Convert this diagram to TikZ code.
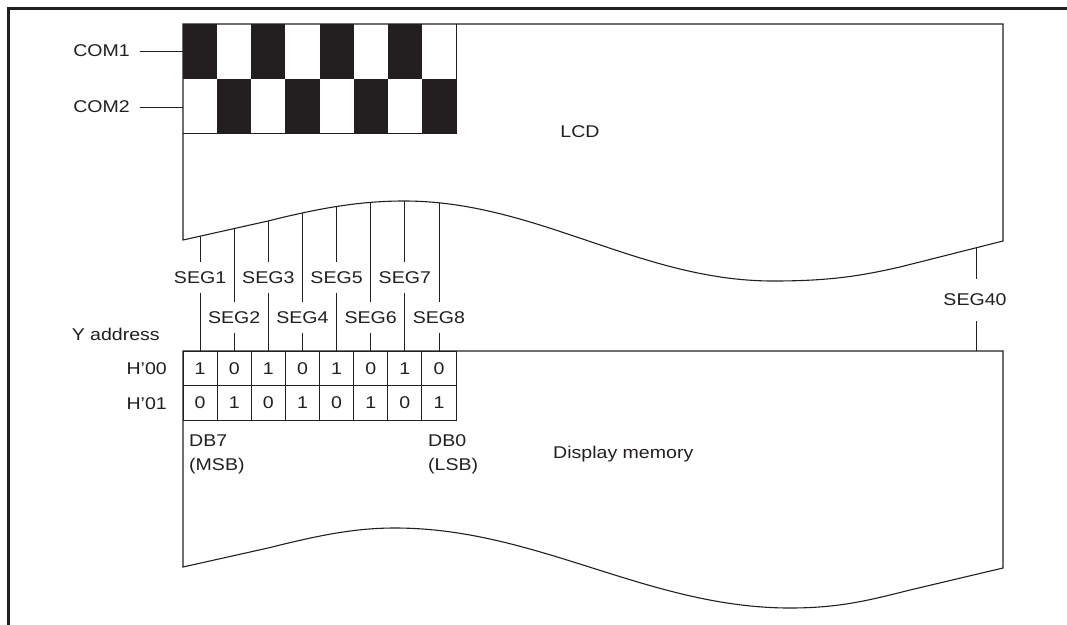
\documentclass[tikz,border=0pt]{standalone}
\usepackage{fontspec}
\setmainfont{Liberation Sans}[FakeStretch=1.15]
\definecolor{ink}{RGB}{35,31,32}
\begin{document}
\begin{tikzpicture}[x=1pt,y=-1pt,
  every node/.style={font=\fontsize{17}{20}\selectfont, text=ink, inner sep=0pt},
  conn/.style={draw=ink, line width=0.8pt},
  outline/.style={draw=ink, line width=1.1pt, line join=miter},
  cell/.style={draw=ink, line width=0.8pt, minimum width=34.125pt, minimum height=34.5pt},
  seglab/.style={inner xsep=1pt, inner ysep=9pt}]
\clip (0,0) rectangle (1067,624);
\fill[white] (0,0) rectangle (1067,624);
\draw[line width=3pt, ink] (8.5,640) -- (8.5,8.5) -- (1080,8.5);

% display memory outline
\draw[outline] (183,351) -- (1003,351) -- (1003,568) -- (910,590)
  .. controls (870,600) and (840,608) .. (790,608)
  .. controls (648,608) and (537,528) .. (395,528)
  .. controls (355,528) and (320,535) .. (268,548) -- (183,567) -- cycle;

% memory cells
\foreach \i/\a/\b in {1/1/0,2/0/1,3/1/0,4/0/1,5/1/0,6/0/1,7/1/0,8/0/1}{
  \node[cell] (a\i) at ({183+34.125*(\i-0.5)},368.25) {\a};
  \node[cell] (b\i) at ({183+34.125*(\i-0.5)},402.75) {\b};
}

% SEG labels and lines
\foreach \i in {1,3,5,7}{
  \coordinate (w\i) at ({183+34.125*(\i-0.5)},195);
  \node[seglab] (s\i) at ({183+34.125*(\i-0.5)},277.5) {SEG\i};
  \draw[conn] (w\i) -- (s\i.north);
  \draw[conn] (s\i.south) -- (a\i.north);
}
\foreach \i in {2,4,6,8}{
  \coordinate (w\i) at ({183+34.125*(\i-0.5)},195);
  \node[seglab] (s\i) at ({183+34.125*(\i-0.5)},317.5) {SEG\i};
  \draw[conn] (w\i) -- (s\i.north);
  \draw[conn] (s\i.south) -- (a\i.north);
}
\coordinate (w40) at (976,230);
\coordinate (m40) at (976,351);
\node[seglab, inner ysep=15pt] (s40) at (975,300) {SEG40};
\draw[conn] (w40) -- (w40 |- s40.north);
\draw[conn] (w40 |- s40.south) -- (m40);

% LCD outline (white fill hides line tops)
\draw[outline, fill=white] (183,24) -- (183,240) -- (268,221)
  .. controls (320,208) and (360,201) .. (404,201)
  .. controls (537,201) and (640,281) .. (773,281)
  .. controls (830,281) and (860,276) .. (900,267)
  -- (1003,241) -- (1003,24) -- cycle;

% checkerboard
\foreach \i in {0,2,4,6}{
  \fill[ink] ({183+34.125*\i},24) rectangle +(34.125,54.5);
}
\foreach \i in {1,3,5,7}{
  \fill[ink] ({183+34.125*\i},78.5) rectangle +(34.125,54.5);
}
\draw[conn] (183,133) -- (456,133) -- (456,24);

% COM labels
\node[anchor=east] (com1) at (130,51) {COM1};
\node[anchor=east] (com2) at (130,107) {COM2};
\coordinate (com1e) at (183,51);
\coordinate (com2e) at (183,107);
\draw[conn] ([xshift=10pt]com1.east) -- (com1e);
\draw[conn] ([xshift=10pt]com2.east) -- (com2e);

\node (lcd) at (580,132) {LCD};

% address labels
\node[anchor=base east] (yaddr) at (160,340) {Y address};
\node[anchor=base east] (h00) at (167,374) {H'00};
\node[anchor=base east] (h01) at (167,409) {H'01};

% bit labels
\node[anchor=base west] (db7) at (189,446) {DB7};
\node[anchor=base west] (msb) at (189,470) {(MSB)};
\node[anchor=base west] (db0) at (428,446) {DB0};
\node[anchor=base west] (lsb) at (428,470) {(LSB)};

\node[anchor=base west] (dmem) at (553,458) {Display memory};
\end{tikzpicture}
\end{document}
